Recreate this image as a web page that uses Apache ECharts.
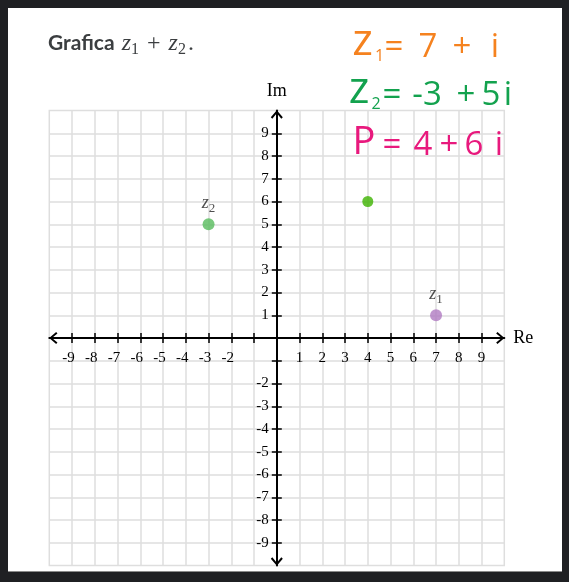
<!DOCTYPE html>
<html>
<head>
<meta charset="utf-8">
<style>
html,body{margin:0;padding:0;background:#1f2023;width:569px;height:582px;overflow:hidden}
#panel{position:absolute;left:8px;top:8px;width:554px;height:563px;background:#fff;border-bottom:1px solid #8a8a8a}
#chart{width:554px;height:563px}
</style>
<script src="https://cdn.jsdelivr.net/npm/echarts@6/dist/echarts.min.js"></script>
</head>
<body>
<div id="panel"><div id="chart"></div></div>
<script>
// ---- data ----
const pointNames = ['z1', 'z2', 'P'];
const reValues = [7, -3, 4];
const imValues = [1, 5, 6];
const xTickLabels = ['-9', '-8', '-7', '-6', '-5', '-4', '-3', '-2', '1', '2', '3', '4', '5', '6', '7', '8', '9'];
const yTickLabels = ['9', '8', '7', '6', '5', '4', '3', '2', '1', '-2', '-3', '-4', '-5', '-6', '-7', '-8', '-9'];
const tickValues = [-9, -8, -7, -6, -5, -4, -3, -2, -1, 0, 1, 2, 3, 4, 5, 6, 7, 8, 9];
const axisMin = -10;
const axisMax = 10;
const axisStep = 1;

// ---- styles ----
const pointColors = {z1: '#b07ac2', z2: '#58bb5c', P: '#3db300'};
const serif = '"Liberation Serif", "DejaVu Serif", serif';
const hand = '"Open Sans", "Noto Sans", sans-serif';
const gridColor = '#dedede';
const arrowPath = 'path://M0,7 L6,0 L12,7 L10.5,8.3 L6,2.8 L1.5,8.3 Z';
const gridSize = 455;
const centerOffset = -gridSize / 2;

const chart = echarts.init(document.getElementById('chart'), null, {renderer: 'canvas'});

function baseAxis(extra) {
  return Object.assign({
    type: 'value', min: axisMin, max: axisMax, interval: axisStep, offset: centerOffset
  }, extra);
}

const mainLine = {
  show: true, onZero: false,
  lineStyle: {color: '#000', width: 2},
  symbol: [arrowPath, arrowPath],
  symbolSize: [12, 8.3],
  symbolOffset: [4, -4]
};
const tickStyle = {show: true, inside: false, length: 5, lineStyle: {color: '#000', width: 1.5}, customValues: tickValues};

function tok(color, size, width) {
  return {fontFamily: hand, fontWeight: 'normal', fontSize: size, color: color, verticalAlign: 'bottom', align: 'center', width: width};
}

const orange = '#f5821f';
const green = '#13a24e';
const pink = '#e8197d';
const titleColor = '#3b3e40';

const option = {
  animation: false,
  title: [
    {
      left: 40, top: 24, padding: 0,
      text: '{a|Grafica }{m|z}{s|1}{o| + }{m|z}{s|2}{o|.}',
      textStyle: {
        rich: {
          a: {fontFamily: 'Lato', fontWeight: 'bold', fontSize: 21, color: titleColor, verticalAlign: 'top', lineHeight: 26, padding: [1, 2, 0, 0]},
          m: {fontFamily: serif, fontStyle: 'italic', fontWeight: 'normal', fontSize: 24, color: titleColor, verticalAlign: 'top', lineHeight: 26},
          s: {fontFamily: serif, fontWeight: 'normal', fontSize: 16, color: titleColor, verticalAlign: 'bottom', lineHeight: 26},
          o: {fontFamily: serif, fontWeight: 'normal', fontSize: 24, color: titleColor, verticalAlign: 'top', lineHeight: 26, padding: [0, 2, 0, 2]}
        }
      }
    },
    {
      left: 342, top: 12, padding: 0,
      text: '{z|z}{s|1}{e|=}{d|7}{p|+}{i|i}',
      textStyle: {rich: {
        z: tok(orange, 44, 25), s: tok(orange, 16, 9), e: tok(orange, 33, 20),
        d: tok(orange, 33, 48), p: tok(orange, 33, 20), i: tok(orange, 33, 46)
      }}
    },
    {
      left: 340, top: 60, padding: 0,
      text: '{z|z}{s|2}{e|=}{d|-3}{p|+}{f|5}{i|i}',
      textStyle: {rich: {
        z: tok(green, 44, 22), s: tok(green, 16, 12), e: tok(green, 33, 20),
        d: tok(green, 33, 50), p: tok(green, 33, 28), f: tok(green, 33, 22), i: tok(green, 33, 12)
      }}
    },
    {
      left: 344, top: 116, padding: 0,
      text: '{P|P}{e|=}{d|4}{p|+}{f|6}{i|i}',
      textStyle: {rich: {
        P: tok(pink, 38, 24), e: tok(pink, 33, 32), d: tok(pink, 33, 30),
        p: tok(pink, 33, 22), f: tok(pink, 33, 28), i: tok(pink, 33, 22)
      }}
    }
  ],
  grid: {
    left: 41.3, top: 102.5, width: gridSize, height: gridSize,
    show: true, borderColor: gridColor, borderWidth: 1.5,
    containLabel: false, outerBoundsMode: 'none'
  },
  xAxis: [
    baseAxis({
      position: 'bottom',
      axisLine: mainLine,
      axisTick: tickStyle,
      axisLabel: {
        show: true, margin: 13, color: '#000', fontFamily: serif, fontSize: 15,
        formatter: function (v) {
          const s = String(v);
          if (xTickLabels.indexOf(s) < 0) return '';
          return v < 0 ? '{n|' + s + '}' : s;
        },
        rich: {n: {fontFamily: serif, fontSize: 15, color: '#000', padding: [0, 7, 0, 0]}}
      },
      splitLine: {show: false},
      name: 'Re', nameLocation: 'end', nameGap: 9,
      nameTextStyle: {fontFamily: serif, fontSize: 18, color: '#000'}
    }),
    baseAxis({
      position: 'top',
      axisLine: {show: false, onZero: false},
      axisTick: tickStyle,
      axisLabel: {show: false},
      splitLine: {show: true, lineStyle: {color: gridColor, width: 1.5}}
    })
  ],
  yAxis: [
    baseAxis({
      position: 'left',
      axisLine: mainLine,
      axisTick: tickStyle,
      axisLabel: {
        show: true, margin: 8, color: '#000', fontFamily: serif, fontSize: 15,
        formatter: function (v) {
          const s = String(v);
          return yTickLabels.indexOf(s) < 0 ? '' : s;
        }
      },
      splitLine: {show: false},
      name: 'Im', nameLocation: 'end', nameGap: 10,
      nameTextStyle: {fontFamily: serif, fontSize: 18, color: '#000'}
    }),
    baseAxis({
      position: 'right',
      axisLine: {show: false, onZero: false},
      axisTick: tickStyle,
      axisLabel: {show: false},
      splitLine: {show: true, lineStyle: {color: gridColor, width: 1.5}}
    })
  ],
  series: [{
    type: 'scatter',
    xAxisIndex: 0, yAxisIndex: 0,
    symbol: 'circle',
    data: pointNames.map(function (n, i) {
      return {
        name: n,
        value: [reValues[i], imValues[i]],
        symbolSize: n === 'P' ? 11 : 12,
        itemStyle: {color: pointColors[n]},
        label: {show: n !== 'P'}
      };
    }),
    label: {
      position: 'top', distance: 3,
      formatter: function (p) { return '{z|z}{s|' + p.name.slice(1) + '}'; },
      rich: {
        z: {fontFamily: serif, fontStyle: 'italic', fontSize: 18, color: '#222', verticalAlign: 'top', lineHeight: 21},
        s: {fontFamily: serif, fontSize: 13, color: '#222', verticalAlign: 'bottom', lineHeight: 21}
      }
    },
    z: 10
  }]
};
chart.setOption(option);
</script>
</body>
</html>
